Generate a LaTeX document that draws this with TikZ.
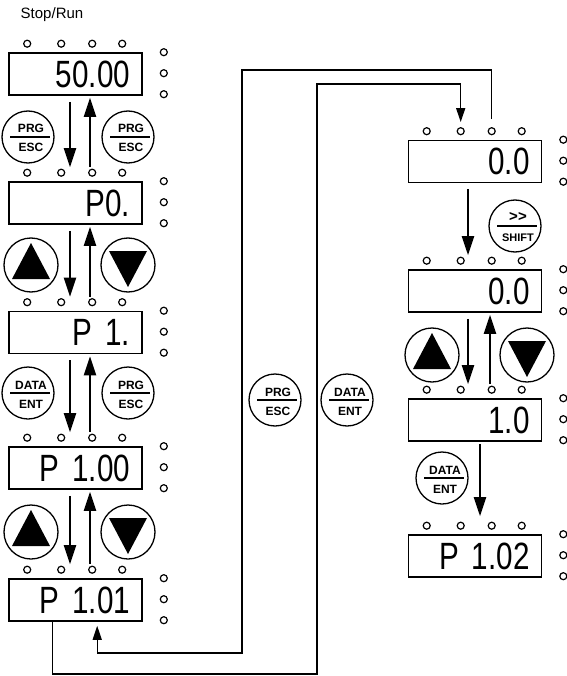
\documentclass[tikz,border=0pt]{standalone}
\usepackage{fontspec}
\setmainfont{Liberation Sans}
\newfontfamily\segfont[FakeStretch=0.78]{Liberation Sans}
\usepackage{tikz}
\usetikzlibrary{positioning,arrows.meta,calc}

\tikzset{
  panel/.style={draw, line width=1.6pt, minimum width=133pt, minimum height=42pt,
    inner xsep=12pt, inner ysep=2pt, text width=109pt, align=right,
    font=\segfont\fontsize{38}{38}\selectfont},
  led/.style={circle, draw, line width=1.2pt, minimum size=7pt, inner sep=0pt},
  keyring/.style={circle, draw, line width=1.3pt, minimum size=52pt, inner sep=0pt},
  keylab/.style={font=\bfseries\fontsize{12}{12}\selectfont, inner sep=0pt, anchor=base},
  flowarr/.style={line width=2.2pt, -{Triangle[length=19pt,width=12pt]}},
  link/.style={line width=1.4pt},
  linkarr/.style={link, -{Triangle[length=14pt,width=9pt]}},
}

% leds over and beside a display
\newcommand\panelleds[1]{%
  \foreach \dx [count=\i] in {19,53,84,114}
    \node[led] (#1t\i) at ($(#1.north west)+(\dx,-8.5)$) {};
  \foreach \dy [count=\i] in {0,21,42}
    \node[led] (#1r\i) at ($(#1.north east)+(21,\dy)$) {};
}
% key with two words
\newcommand\wordkey[4]{%
  \node[keyring] (#1) at (#2) {};
  \draw[line width=1.1pt] ($(#1.center)+(-18,0)$) -- ($(#1.center)+(22,0)$);
  \node[keylab] (#1up) at ($(#1.center)+(3,-4)$) {#3};
  \node[keylab] (#1dn) at ($(#1.center)+(3,15)$) {#4};
}
\newcommand\upkey[2]{%
  \node[keyring, minimum size=54pt] (#1) at (#2) {};
  \fill ($(#1.center)+(0,-22)$) -- ($(#1.center)+(19,14)$) -- ($(#1.center)+(-19,14)$) -- cycle;
}
\newcommand\downkey[2]{%
  \node[keyring, minimum size=54pt] (#1) at (#2) {};
  \fill ($(#1.center)+(0,22)$) -- ($(#1.center)+(19,-14)$) -- ($(#1.center)+(-19,-14)$) -- cycle;
}

\begin{document}
\begin{tikzpicture}[x=1pt,y=-1pt]
\useasboundingbox (0,0) rectangle (566,676);
\node[font=\fontsize{15}{15}\selectfont] (mode) at (52,15) {Stop/Run};

% left column
\node[panel] (d1) at (75.5,74) {50.00};
\node[panel] (d2) at (75.5,203) {P0.};
\node[panel] (d3) at (75.5,332.5) {P 1.};
\node[panel] (d4) at (75.5,468) {P 1.00};
\node[panel] (d5) at (75.5,600) {P 1.01};
\foreach \d in {d1,d2,d3,d4,d5} {\panelleds{\d}}

\foreach \a/\b in {d1/d2,d2/d3,d3/d4,d4/d5} {
  \draw[flowarr] ([xshift=-5.5pt,yshift=-6pt]\a.south) -- ([xshift=-5.5pt,yshift=14pt]\b.north);
  \draw[flowarr] ([xshift=14.5pt,yshift=14pt]\b.north) -- ([xshift=14.5pt,yshift=-2pt]\a.south);
}

\wordkey{kesc1}{28,137}{PRG}{ESC}
\wordkey{kesc2}{128,137}{PRG}{ESC}
\upkey{kup1}{31,265}
\downkey{kdn1}{128,265}
\wordkey{kent1}{28,393}{DATA}{ENT}
\wordkey{kesc3}{128,393}{PRG}{ESC}
\upkey{kup2}{31,532}
\downkey{kdn2}{128,532}

% right column
\node[panel] (e1) at (475,161.5) {0.0};
\node[panel] (e2) at (475,291) {0.0};
\node[panel] (e3) at (475,420) {1.0};
\node[panel] (e4) at (475,556) {P 1.02};
\foreach \d in {e1,e2,e3,e4} {\panelleds{\d}}

\draw[flowarr] ([xshift=-7pt,yshift=-6pt]e1.south) -- ([xshift=-7pt,yshift=14pt]e2.north);
\draw[flowarr] ([xshift=-7pt,yshift=-6pt]e2.south) -- ([xshift=-7pt,yshift=14pt]e3.north);
\draw[flowarr] ([xshift=15pt,yshift=14pt]e3.north) -- ([xshift=15pt,yshift=-2pt]e2.south);
\draw[flowarr] ([xshift=5pt,yshift=-2pt]e3.south) -- ([xshift=5pt,yshift=18pt]e4.north);

\wordkey{kshift}{515,226}{\fontsize{15}{15}\selectfont{>}{>}}{\fontsize{11}{11}\selectfont SHIFT}
\upkey{kup3}{432,355}
\downkey{kdn3}{527,355}
\wordkey{kent3}{442,478}{DATA}{ENT}

% links between the columns
\wordkey{kesc4}{275,400}{PRG}{ESC}
\wordkey{kent2}{347,400}{DATA}{ENT}
\coordinate (p5out) at ($(d5.south west)+(44,0)$);
\coordinate (p5in) at ($(d5.south west)+(89,4)$);
\coordinate (ja) at (317,674);
\coordinate (jb) at (e1t2 |- 0,84);
\coordinate (jc) at (242,70);
\coordinate (jd) at (p5in |- 0,653);
\draw[linkarr] (p5out) |- (ja) |- (jb) -- ([yshift=5pt]e1t2.north);
\draw[linkarr] ([yshift=8pt]e1t3.north) |- (jc) |- (jd) -- (p5in);
\end{tikzpicture}
\end{document}
